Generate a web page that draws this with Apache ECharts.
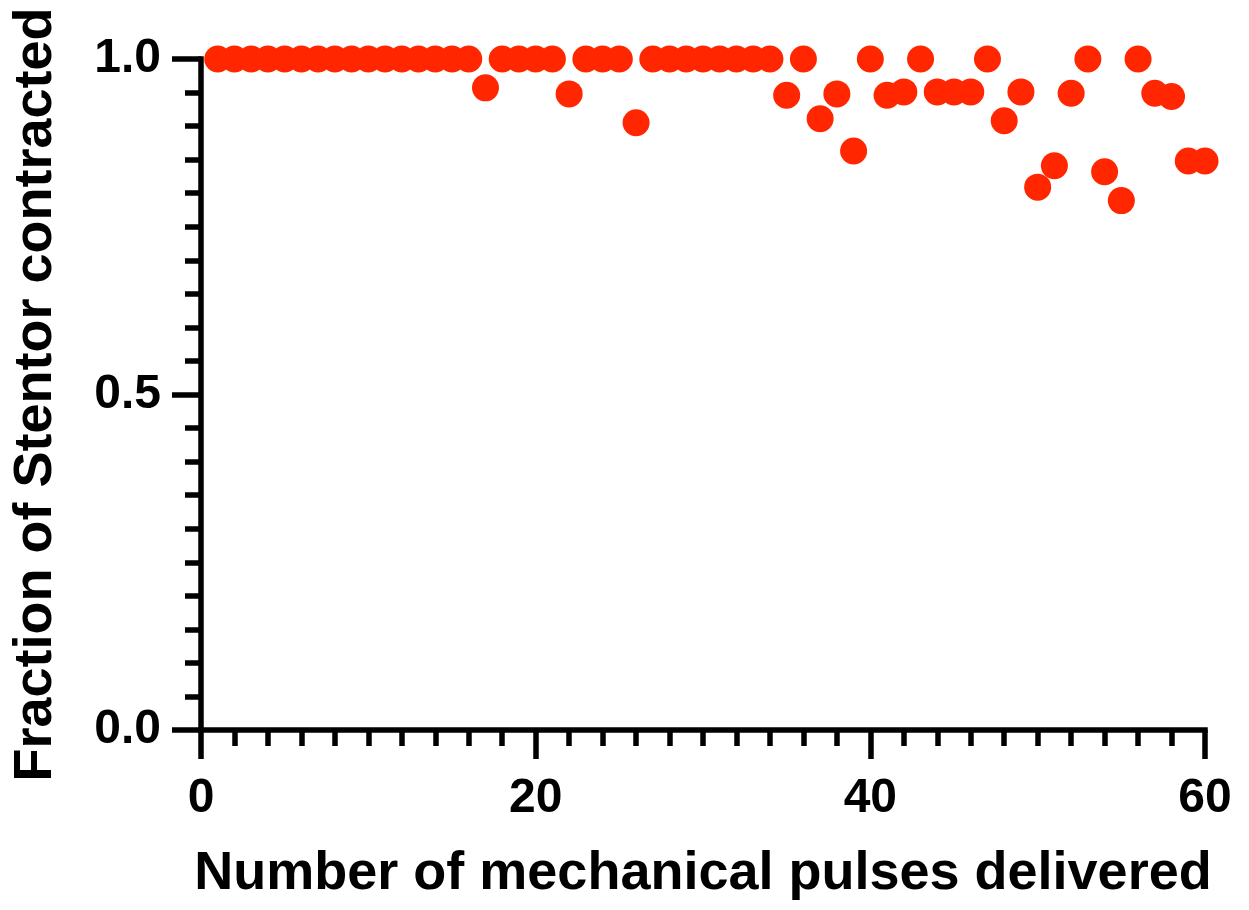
<!DOCTYPE html>
<html>
<head>
<meta charset="utf-8">
<script src="https://cdn.jsdelivr.net/npm/echarts@6/dist/echarts.min.js"></script>
<style>
html,body{margin:0;padding:0;background:#fff;}
#chart{width:1249px;height:910px;}
</style>
</head>
<body>
<div id="chart"></div>
<script>
const pulses = [1,2,3,4,5,6,7,8,9,10,11,12,13,14,15,16,17,18,19,20,21,22,23,24,25,26,27,28,29,30,
  31,32,33,34,35,36,37,38,39,40,41,42,43,44,45,46,47,48,49,50,51,52,53,54,55,56,57,58,59,60];
const fractionContracted = [1,1,1,1,1,1,1,1,1,1,1,1,1,1,1,1,0.957,1,1,1,1,0.948,1,1,1,0.905,1,1,1,1,
  1,1,1,1,0.946,1,0.911,0.948,0.863,1,0.946,0.951,1,0.951,0.951,0.951,1,0.908,0.951,0.809,
  0.841,0.949,1,0.832,0.789,1,0.949,0.944,0.848,0.848];
const xTicks = [0,20,40,60];
const yTicks = [0,0.5,1.0];
const xTitle = 'Number of mechanical pulses delivered';
const yTitle = 'Fraction of Stentor contracted';

const points = pulses.map((p, i) => [p, fractionContracted[i]]);
const FONT = '"Liberation Sans", Arial, sans-serif';
const axisLine = {show: true, onZero: false, lineStyle: {color: '#000', width: 5.5, cap: 'square'}};

const chart = echarts.init(document.getElementById('chart'));
chart.setOption({
  animation: false,
  backgroundColor: '#fff',
  grid: {left: 201, right: 44, top: 59, bottom: 180, containLabel: false},
  xAxis: {
    type: 'value', min: xTicks[0], max: xTicks[xTicks.length-1], interval: 20,
    name: xTitle, nameLocation: 'middle', nameGap: 117,
    nameTextStyle: {fontFamily: FONT, fontWeight: 'bold', fontSize: 54, color: '#000'},
    axisLine: axisLine,
    axisTick: {show: true, inside: false, length: 29, lineStyle: {color: '#000', width: 5.5}},
    minorTick: {show: true, splitNumber: 10, length: 16, lineStyle: {color: '#000', width: 5.5}},
    splitLine: {show: false},
    axisLabel: {show: true, margin: 45, fontFamily: FONT, fontWeight: 'bold', fontSize: 48, color: '#000'}
  },
  yAxis: {
    type: 'value', min: yTicks[0], max: yTicks[yTicks.length-1], interval: 0.5,
    name: yTitle, nameLocation: 'middle', nameGap: 138, nameRotate: 90,
    nameTextStyle: {fontFamily: FONT, fontWeight: 'bold', fontSize: 54, color: '#000'},
    axisLine: axisLine,
    axisTick: {show: true, inside: false, length: 29, lineStyle: {color: '#000', width: 5.5}},
    minorTick: {show: true, splitNumber: 10, length: 16, lineStyle: {color: '#000', width: 5.5}},
    splitLine: {show: false},
    axisLabel: {show: true, margin: 40, fontFamily: FONT, fontWeight: 'bold', fontSize: 48, color: '#000',
      formatter: v => v.toFixed(1)}
  },
  series: [{
    type: 'scatter',
    data: points,
    symbol: 'circle',
    symbolSize: 27,
    clip: false,
    itemStyle: {color: '#ff2600', opacity: 1},
    z: 1
  }]
});
</script>
</body>
</html>
